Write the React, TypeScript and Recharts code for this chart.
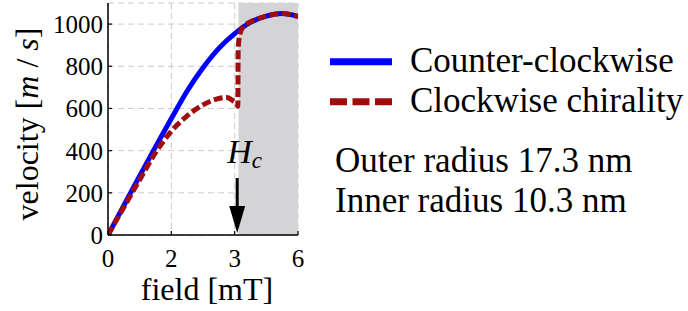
import React from 'react';
import {
  LineChart,
  Line,
  XAxis,
  YAxis,
  CartesianGrid,
  ReferenceArea,
  ReferenceLine,
  ReferenceDot,
  Legend,
} from 'recharts';

// counter-clockwise (blue, solid)
const ccwField = [0, 0.5, 1, 1.5, 2, 2.5, 3, 3.5, 4, 4.5, 5, 5.5, 6];
const ccwVelocity = [0, 140, 280, 418, 552, 683, 793, 885, 955, 1008, 1038, 1050, 1036];

// clockwise chirality (red, dashed) - jumps up at Hc
const cwField = [0, 0.5, 1, 1.5, 2, 2.5, 3, 3.5, 3.75, 3.95, 4.08, 4.1, 4.11, 4.16, 4.28, 4.42, 5, 5.5, 6];
const cwVelocity = [0, 132, 262, 390, 492, 565, 617, 647, 652, 636, 620, 610, 880, 950, 990, 1004, 1038, 1050, 1036];

const xTicks = [0, 2, 4, 6];
const xTickLabels = ['0', '2', '3', '6'];
const yTicks = [0, 200, 400, 600, 800, 1000];

const hcField = 4.08;
const shadeStart = 4.12;
const arrowTop = 270;
const arrowTip = 10;

const notes = ['Outer radius 17.3 nm', 'Inner radius 10.3 nm'];

const series = [
  { name: 'Counter-clockwise', color: '#0000ff', dash: undefined as string | undefined },
  { name: 'Clockwise chirality', color: '#a00d0d', dash: '17 5.5' },
];

const ccwData = ccwField.map((f, i) => ({ field: f, v: ccwVelocity[i] }));
const cwData = cwField.map((f, i) => ({ field: f, v: cwVelocity[i] }));

const FONT = '"Liberation Serif", "Times New Roman", serif';

const XLabel = (props: any) => {
  const vb = props.viewBox;
  return (
    <text x={vb.x + vb.width / 2 + 4} y={vb.y + 65} textAnchor="middle" fontSize={32} fontFamily={FONT} fill="#000">
      field  [mT]
    </text>
  );
};

const YLabel = (props: any) => {
  const vb = props.viewBox;
  const cx = vb.x + 38;
  const cy = vb.y + vb.height / 2 + 5;
  return (
    <text transform={`translate(${cx},${cy}) rotate(-90)`} textAnchor="middle" fontSize={32} fontFamily={FONT} fill="#000">
      velocity [<tspan fontStyle="italic">m</tspan> / <tspan fontStyle="italic">s</tspan>]
    </text>
  );
};

const ArrowHead = (props: any) => {
  const { cx, cy } = props;
  return (
    <g>
      <polygon points={`${cx - 8},${cy - 27} ${cx + 8},${cy - 27} ${cx},${cy}`} fill="#000" />
      <text x={cx - 10} y={cy - 70} fontFamily={FONT} fontStyle="italic" fontSize={34} fill="#000">
        H<tspan fontSize={23} dy={5}>c</tspan>
      </text>
    </g>
  );
};

const LegendBox = () => (
  <svg width={360} height={90}>
    {series.map((s, i) => {
      const y = 31.7 + 40 * i;
      return (
        <g key={s.name}>
          <line x1={5} x2={67} y1={y} y2={y} stroke={s.color} strokeWidth={7} strokeDasharray={s.dash} />
          <text x={85} y={y + 10} fontSize={35} fontFamily={FONT} fill="#000">
            {s.name}
          </text>
        </g>
      );
    })}
  </svg>
);

export default function App() {
  return (
    <div style={{ position: 'absolute', left: 0, top: 0, width: 688, height: 311, background: '#fff' }}>
      <LineChart width={688} height={311} margin={{ top: 3, right: 390, bottom: 0, left: 0 }}>
        <CartesianGrid stroke="#cccccc" strokeDasharray="6 4" />
        <ReferenceArea x1={shadeStart} x2={6} fill="#d4d4d6" fillOpacity={1} stroke="none" />
        <XAxis
          dataKey="field"
          type="number"
          domain={[0, 6]}
          ticks={xTicks}
          tickFormatter={(v: number) => xTickLabels[xTicks.indexOf(v)]}
          height={76}
          tickSize={-4}
          tickMargin={18}
          axisLine={{ stroke: '#000', strokeWidth: 1.5 }}
          tickLine={{ stroke: '#000', strokeWidth: 1.2 }}
          tick={{ fill: '#000', fontSize: 25, fontFamily: FONT }}
          allowDataOverflow
          label={XLabel}
        />
        <XAxis
          xAxisId="top"
          orientation="top"
          type="number"
          domain={[0, 6]}
          ticks={xTicks}
          height={0}
          tick={false}
          tickSize={-4}
          axisLine={{ stroke: '#000', strokeWidth: 1.5 }}
          tickLine={{ stroke: '#000', strokeWidth: 1.2 }}
        />
        <YAxis
          type="number"
          domain={[0, 1100]}
          ticks={yTicks}
          width={108}
          tickSize={-4}
          tickMargin={9}
          axisLine={{ stroke: '#000', strokeWidth: 1.5 }}
          tickLine={{ stroke: '#000', strokeWidth: 1.2 }}
          tick={{ fill: '#000', fontSize: 25, fontFamily: FONT }}
          allowDataOverflow
          label={YLabel}
        />
        <YAxis
          yAxisId="right"
          orientation="right"
          type="number"
          domain={[0, 1100]}
          ticks={yTicks}
          width={0}
          tick={false}
          tickSize={-4}
          axisLine={{ stroke: '#000', strokeWidth: 1.5 }}
          tickLine={{ stroke: '#000', strokeWidth: 1.2 }}
        />
        <Line
          data={ccwData}
          dataKey="v"
          name={series[0].name}
          type="monotone"
          stroke={series[0].color}
          strokeWidth={5}
          dot={false}
          isAnimationActive={false}
        />
        <Line
          data={cwData}
          dataKey="v"
          name={series[1].name}
          type="monotone"
          stroke={series[1].color}
          strokeWidth={5}
          strokeDasharray="9 3.5"
          dot={false}
          isAnimationActive={false}
        />
        <ReferenceLine
          segment={[
            { x: hcField, y: arrowTop },
            { x: hcField, y: arrowTip + 60 },
          ]}
          stroke="#000"
          strokeWidth={3}
        />
        <ReferenceDot x={hcField} y={arrowTip} r={0} shape={ArrowHead} />
        <Legend
          layout="horizontal"
          verticalAlign="middle"
          align="center"
          content={LegendBox}
          wrapperStyle={{ position: 'absolute', left: 325, top: 30, width: 360 }}
        />
      </LineChart>
      <svg width={688} height={311} style={{ position: 'absolute', left: 0, top: 0, pointerEvents: 'none' }}>
        {notes.map((n, i) => (
          <text key={n} x={335} y={171.7 + 40 * i} fontSize={35} fontFamily={FONT} fill="#000">
            {n}
          </text>
        ))}
      </svg>
    </div>
  );
}
